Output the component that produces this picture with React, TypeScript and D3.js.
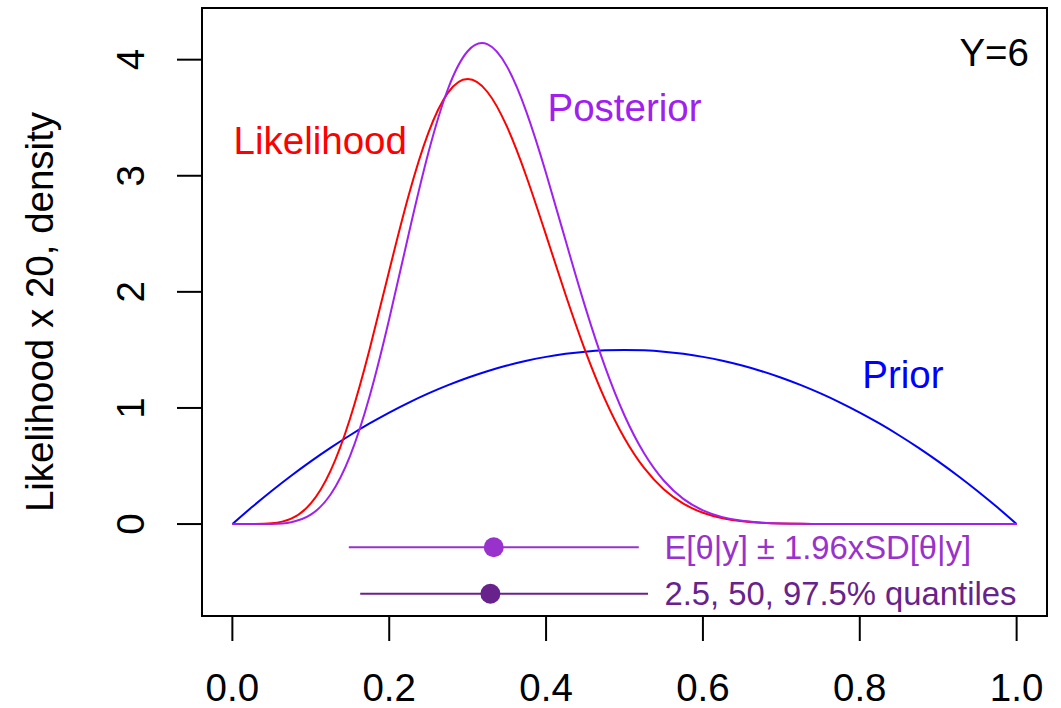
import React from "react";
import * as d3 from "d3";

const theta = [
  0, 0.025, 0.05, 0.075, 0.1, 0.125, 0.15, 0.175, 0.2, 0.225, 0.25, 0.275, 0.3, 0.325, 0.35,
  0.375, 0.4, 0.425, 0.45, 0.475, 0.5, 0.525, 0.55, 0.575, 0.6, 0.625, 0.65, 0.675, 0.7, 0.725,
  0.75, 0.775, 0.8, 0.825, 0.85, 0.875, 0.9, 0.925, 0.95, 0.975, 1.0,
];

const prior = [
  0, 0.14625, 0.285, 0.41625, 0.54, 0.65625, 0.765, 0.86625, 0.96, 1.04625, 1.125, 1.19625, 1.26,
  1.31625, 1.365, 1.40625, 1.44, 1.46625, 1.485, 1.49625, 1.5, 1.49625, 1.485, 1.46625, 1.44,
  1.40625, 1.365, 1.31625, 1.26, 1.19625, 1.125, 1.04625, 0.96, 0.86625, 0.765, 0.65625, 0.54,
  0.41625, 0.285, 0.14625, 0,
];

const likelihood = [
  0, 0.0001, 0.0059, 0.0463, 0.1774, 0.456, 0.9075, 1.5066, 2.1819, 2.8362, 3.3722, 3.7165,
  3.8328, 3.7236, 3.4246, 2.9917, 2.4882, 1.9729, 1.492, 1.076, 0.7393, 0.4832, 0.2996, 0.1758,
  0.0971, 0.0502, 0.0242, 0.0108, 0.0044, 0.0016, 0.0005, 0.0001, 0, 0, 0, 0, 0, 0, 0, 0, 0,
];

const posterior = [
  0, 0.0, 0.0014, 0.0163, 0.0808, 0.2524, 0.5854, 1.1006, 1.7665, 2.5025, 3.1994, 3.7494,
  4.0727, 4.1333, 3.9422, 3.548, 3.0217, 2.4396, 1.8685, 1.3577, 0.9352, 0.6097, 0.3752, 0.2173,
  0.1179, 0.0596, 0.0279, 0.0119, 0.0046, 0.0017, 0.0005, 0.0001, 0, 0, 0, 0, 0, 0, 0, 0, 0,
];

const xTicks = [0, 0.2, 0.4, 0.6, 0.8, 1.0];
const yTicks = [0, 1, 2, 3, 4];

const legendLabels = ["E[θ|y] ± 1.96xSD[θ|y]", "2.5, 50, 97.5% quantiles"];
const legendCenter = [0.3333, 0.329];
const legendLow = [0.1485, 0.163];
const legendHigh = [0.5182, 0.53];
const legendY = [-0.2, -0.6];
const legendColors = ["#9932CC", "#68228B"];

const FONT = "'Liberation Sans', Arial, Helvetica, sans-serif";

export default function App() {
  const x = d3.scaleLinear().domain([-0.04, 1.04]).range([201, 1048]);
  const y = d3.scaleLinear().domain([-0.792, 4.445]).range([616, 8]);

  const mk = (vals: number[]) =>
    d3
      .line<number>()
      .x((_, i) => x(theta[i]))
      .y((d) => y(d))
      .curve(d3.curveNatural)(vals) || "";

  const fs = 38.5;

  return (
    <svg
      width={1061}
      height={708}
      style={{ position: "absolute", left: 0, top: 0, background: "#fff" }}
      fontFamily={FONT}
    >
      <rect x={0} y={0} width={1061} height={708} fill="#fff" />
      {/* curves */}
      <path d={mk(prior)} fill="none" stroke="#0000FF" strokeWidth={2} />
      <path d={mk(likelihood)} fill="none" stroke="#FF0000" strokeWidth={2} />
      <path d={mk(posterior)} fill="none" stroke="#A020F0" strokeWidth={2} />

      {/* curve labels */}
      <text x={x(0.112)} y={y(3.3)} fontSize={fs} fill="#FF0000" textAnchor="middle" dominantBaseline="central">
        Likelihood
      </text>
      <text x={x(0.5)} y={y(3.59)} fontSize={fs} fill="#A020F0" textAnchor="middle" dominantBaseline="central">
        Posterior
      </text>
      <text x={x(0.855)} y={y(1.29)} fontSize={fs} fill="#0000FF" textAnchor="middle" dominantBaseline="central">
        Prior
      </text>
      <text x={1029} y={66} fontSize={fs} fill="#000" textAnchor="end">
        Y=6
      </text>

      {/* legend intervals */}
      {legendLabels.map((lab, i) => (
        <g key={lab}>
          <line
            x1={x(legendLow[i])}
            x2={x(legendHigh[i])}
            y1={y(legendY[i])}
            y2={y(legendY[i])}
            stroke={legendColors[i]}
            strokeWidth={2}
          />
          <circle cx={x(legendCenter[i])} cy={y(legendY[i])} r={10} fill={legendColors[i]} />
          <text
            x={x(0.551)}
            y={y(legendY[i])}
            fontSize={32.8}
            fill={legendColors[i]}
            dominantBaseline="central"
          >
            {lab}
          </text>
        </g>
      ))}

      {/* box */}
      <rect x={202} y={8} width={845} height={608} fill="none" stroke="#000" strokeWidth={2} />

      {/* x axis */}
      <line x1={x(0)} x2={x(1)} y1={616} y2={616} stroke="#000" strokeWidth={2} />
      {xTicks.map((t) => (
        <g key={t}>
          <line x1={x(t)} x2={x(t)} y1={616} y2={641} stroke="#000" strokeWidth={2} />
          <text x={x(t)} y={701} fontSize={fs} textAnchor="middle" fill="#000">
            {t.toFixed(1)}
          </text>
        </g>
      ))}

      {/* y axis */}
      <line x1={202} x2={202} y1={y(0)} y2={y(4)} stroke="#000" strokeWidth={2} />
      {yTicks.map((t) => (
        <g key={t}>
          <line x1={177} x2={202} y1={y(t)} y2={y(t)} stroke="#000" strokeWidth={2} />
          <text
            transform={`translate(144,${y(t)}) rotate(-90)`}
            fontSize={fs}
            textAnchor="middle"
            fill="#000"
          >
            {String(t)}
          </text>
        </g>
      ))}

      <text transform="translate(53,312) rotate(-90)" fontSize={fs} textAnchor="middle" fill="#000">
        Likelihood x 20, density
      </text>
    </svg>
  );
}
